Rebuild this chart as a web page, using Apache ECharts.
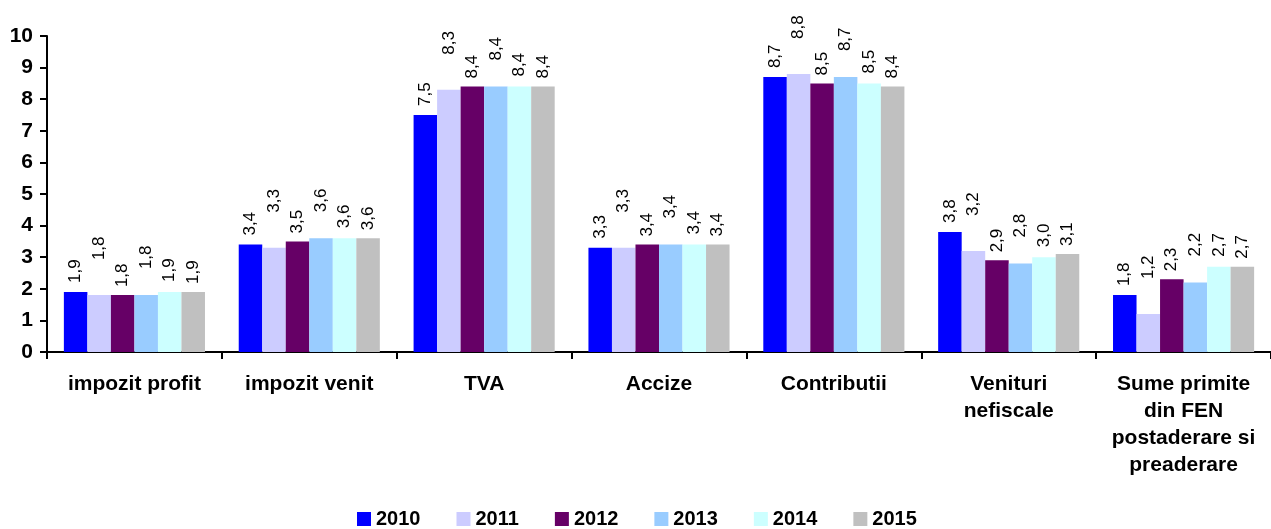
<!DOCTYPE html>
<html>
<head>
<meta charset="utf-8">
<script src="https://cdn.jsdelivr.net/npm/echarts@6/dist/echarts.min.js"></script>
<style>
  html, body { margin: 0; padding: 0; background: #fff; }
  #chart { width: 1271px; height: 529px; }
</style>
</head>
<body>
<div id="chart"></div>
<script>
const categories = [
  'impozit profit',
  'impozit venit',
  'TVA',
  'Accize',
  'Contributii',
  'Venituri\nnefiscale',
  'Sume primite\ndin FEN\npostaderare si\npreaderare'
]
const years = ['2010', '2011', '2012', '2013', '2014', '2015']
const v2010 = [1.9, 3.4, 7.5, 3.3, 8.7, 3.8, 1.8]
const v2011 = [1.8, 3.3, 8.3, 3.3, 8.8, 3.2, 1.2]
const v2012 = [1.8, 3.5, 8.4, 3.4, 8.5, 2.9, 2.3]
const v2013 = [1.8, 3.6, 8.4, 3.4, 8.7, 2.8, 2.2]
const v2014 = [1.9, 3.6, 8.4, 3.4, 8.5, 3.0, 2.7]
const v2015 = [1.9, 3.6, 8.4, 3.4, 8.4, 3.1, 2.7]

const seriesValues = [v2010, v2011, v2012, v2013, v2014, v2015]
const colors = ['#0000FF', '#CCCCFF', '#660066', '#99CCFF', '#CCFFFF', '#C0C0C0']
// labels of 2011 and 2013 sit higher in the original
const labelDistance = [9, 35, 8, 26, 10, 8]

const chart = echarts.init(document.getElementById('chart'))

const font = '"Liberation Sans", Arial, sans-serif'

const series = years.map((y, i) => ({
  name: y,
  type: 'bar',
  data: seriesValues[i],
  barGap: 0,
  barCategoryGap: '19.3%',
  itemStyle: { color: colors[i] },
  label: {
    show: true,
    position: 'top',
    distance: labelDistance[i],
    rotate: 90,
    align: 'left',
    verticalAlign: 'middle',
    color: '#000',
    fontFamily: font,
    fontSize: 17,
    formatter: p => p.value.toFixed(1).replace('.', ',')
  }
}))

chart.setOption({
  animation: false,
  backgroundColor: '#fff',
  textStyle: { fontFamily: font },
  grid: {
    left: 47,
    top: 36,
    width: 1234,
    height: 316
  },
  legend: {
    data: years,
    left: 357,
    top: 509,
    padding: 0,
    itemWidth: 14,
    itemHeight: 14,
    itemGap: 36,
    icon: 'rect',
    textStyle: {
      color: '#000',
      fontWeight: 'bold',
      fontSize: 20,
      fontFamily: font
    }
  },
  xAxis: {
    type: 'category',
    data: categories,
    axisLine: { lineStyle: { color: '#000', width: 2 } },
    axisTick: { show: true, length: 7, lineStyle: { color: '#000', width: 2 } },
    axisLabel: {
      interval: 0,
      color: '#000',
      fontWeight: 'bold',
      fontSize: 21,
      lineHeight: 27,
      margin: 19,
      fontFamily: font
    }
  },
  yAxis: {
    type: 'value',
    min: 0,
    max: 10,
    interval: 1,
    splitLine: { show: false },
    axisLine: { show: true, lineStyle: { color: '#000', width: 2 } },
    axisTick: { show: true, length: 7, lineStyle: { color: '#000', width: 2 } },
    axisLabel: {
      color: '#000',
      fontWeight: 'bold',
      fontSize: 21,
      margin: 14,
      fontFamily: font
    }
  },
  series
})
</script>
</body>
</html>
